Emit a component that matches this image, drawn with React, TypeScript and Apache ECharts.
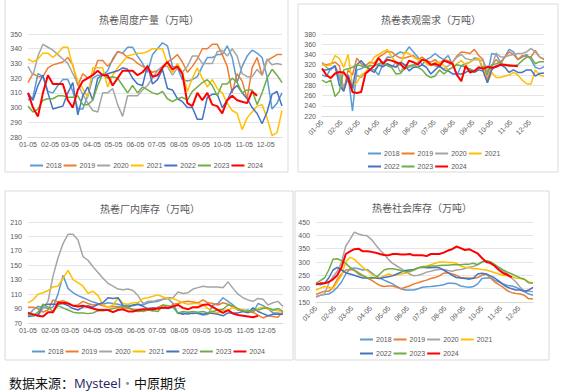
import React, { useEffect, useRef } from "react";
import * as echarts from "echarts";

// ---------- axis categories (daily, 01-05 .. 12-28) ----------
const MONTH_DAYS = [31, 28, 31, 30, 31, 30, 31, 31, 30, 31, 30, 31];
const pad = (n: number) => (n < 10 ? "0" + n : "" + n);
const DAYS: string[] = [];
{
  let doy = 0;
  for (let m = 0; m < 12; m++) {
    for (let d = 1; d <= MONTH_DAYS[m]; d++) {
      doy++;
      if (doy >= 5 && doy <= 362) DAYS.push(pad(m + 1) + "-" + pad(d));
    }
  }
}
const WEEKS: string[] = DAYS.filter((_, i) => i % 7 === 0);

const YEARS = ["2018", "2019", "2020", "2021", "2022", "2023", "2024"];
const COLORS = ["#5B9BD5", "#ED7D31", "#A5A5A5", "#FFC000", "#4472C4", "#70AD47", "#FF0000"];

const TITLES = ["热卷周度产量（万吨）", "热卷表观需求（万吨）", "热卷厂内库存（万吨）", "热卷社会库存（万吨）"];

// ---------- 1. weekly output ----------
const out2018 = [305,307,323,321,311,310,315,319,319,311,299,299,308,320,322,322,325,333,338,337,341,341,335,330,324,336,340,344,342,328,327,319,318,319,321,328,334,334,336,336,342,334,317,328,335,339,337,334,321,299,303,310];
const out2019 = [317,323,321,321,327,329,330,331,334,329,315,323,320,322,332,332,328,332,338,337,334,333,330,328,326,324,325,328,331,333,336,331,324,328,333,340,340,343,343,336,328,310,323,318,306,327,334,322,332,334,336,336];
const out2020 = [328,322,335,343,341,339,336,333,330,323,316,309,303,298,297,310,310,313,302,294,308,308,308,312,315,320,325,328,328,322,327,324,328,335,335,330,330,330,338,339,335,340,335,323,321,321,326,322,333,329,330,329];
const out2021 = [333,331,333,337,337,334,337,341,341,328,318,313,307,327,327,327,314,322,327,331,335,336,337,337,338,340,340,340,330,324,330,324,311,320,327,320,314,319,313,310,303,298,296,285,293,297,301,302,293,281,283,298];
const out2022 = [310,305,315,322,310,299,300,301,310,317,295,308,314,305,320,322,323,324,325,327,326,320,316,315,329,316,319,326,313,312,306,304,300,300,292,292,307,309,309,300,305,312,315,310,306,300,296,289,297,309,311,301];
const out2023 = [301,297,299,305,306,306,308,308,307,307,308,302,302,305,315,323,320,321,320,315,310,315,310,314,312,310,309,311,306,304,306,307,305,311,314,317,319,315,308,316,316,320,317,310,312,312,302,310,320,326,322,317];
const out2024 = [310,300,294,310,322,316,316,316,305,300,312,318,320,322,325,322,322,315,320,325,325,325,322,324,328,321,322,327,331,326,328,323,303,301,310,305,310,302,301,296,305,308,305,304,303,311,308];

// ---------- 2. apparent demand ----------
const dem2018 = [300,297,313,316,293,270,300,230,310,312,318,312,310,300,322,335,334,340,345,342,355,345,335,320,330,335,342,335,330,338,320,300,318,322,325,333,332,310,300,342,340,325,335,350,345,330,335,340,330,315,312,316];
const dem2019 = [322,320,322,325,318,270,310,300,333,322,318,325,323,335,340,346,345,338,333,333,336,338,330,335,328,325,330,322,330,328,325,337,345,344,342,350,338,330,290,318,330,322,335,345,340,330,338,336,335,348,335,330];
const dem2020 = [325,315,310,318,300,275,290,270,300,295,305,310,310,318,320,320,315,325,305,320,315,318,325,330,325,320,318,315,312,318,325,335,340,332,330,330,330,328,310,315,343,335,335,338,340,342,342,345,352,345,335,332];
const dem2021 = [320,318,320,338,332,315,340,280,285,300,305,320,335,340,345,350,335,325,318,345,342,335,330,330,322,318,325,325,318,310,315,322,328,320,325,330,332,315,285,305,295,295,298,300,305,300,290,283,282,310,300,297];
const dem2022 = [310,310,312,318,280,268,300,275,320,328,318,310,305,320,316,322,318,315,325,320,308,315,315,320,315,302,310,318,310,308,302,302,302,305,310,305,310,308,285,310,318,320,315,305,310,305,305,310,310,298,303,304];
const dem2023 = [290,285,290,258,268,310,312,315,320,318,315,318,318,322,325,318,315,302,303,312,318,320,315,310,300,295,298,310,302,310,315,320,318,315,312,308,312,316,305,320,322,325,318,320,318,320,328,335,335,322,326,326];
const dem2024 = [313,300,294,303,306,305,293,267,265,267,303,310,318,333,322,330,328,325,322,312,328,325,320,330,328,320,322,318,328,325,322,300,288,318,305,308,315,312,316,314,316,320,320,318,318,317];

// ---------- 3. mill inventory ----------
const mill2018 = [80,88,93,92,90,92,110,136,118,112,108,105,102,99,97,96,98,97,96,94,95,94,96,95,98,99,100,103,104,97,83,84,82,84,83,81,82,95,97,105,100,95,88,87,88,84,97,94,90,84,84,82];
const mill2019 = [92,92,90,85,88,102,99,101,98,94,95,100,97,95,96,94,92,93,93,91,90,89,88,86,88,87,92,95,90,96,97,99,100,99,98,102,98,97,95,98,96,92,88,88,85,85,81,77,80,79,78,86];
const mill2020 = [85,82,80,90,100,135,160,180,193,193,185,162,157,148,140,132,125,121,117,116,117,115,108,97,100,100,102,103,105,105,113,111,112,117,119,121,120,120,120,119,127,118,110,105,102,100,104,103,95,98,100,93];
const mill2021 = [98,102,110,112,115,120,121,132,143,130,126,121,111,114,108,95,92,95,105,97,96,98,98,104,105,107,109,106,104,104,101,98,96,97,97,95,90,85,84,88,87,92,89,88,86,88,90,92,89,88,87,86];
const mill2022 = [79,80,81,95,96,96,96,97,94,90,88,92,94,92,96,98,105,104,105,94,92,95,96,93,90,91,90,91,90,92,84,82,84,83,84,82,84,83,82,80,84,84,84,86,84,91,86,83,80,82,82,82];
const mill2023 = [82,80,85,96,92,86,94,91,88,85,84,84,83,84,87,87,88,90,91,93,92,88,86,87,88,87,86,95,94,92,84,86,85,86,85,86,84,86,88,89,95,94,90,87,86,87,88,90,91,88,90,86];
const mill2024 = [84,82,80,79,85,85,98,98,97,94,93,94,92,90,88,88,88,85,88,89,86,86,88,89,89,89,90,91,91,93,95,91,89,92,92,95,96,92,88,84,88,83,81,80,79,78,80];

// ---------- 4. social inventory ----------
const soc2018 = [170,175,178,180,190,205,225,255,275,278,275,270,272,260,248,240,232,225,218,208,200,195,195,195,200,205,207,208,210,212,215,220,220,218,210,207,205,208,218,238,240,240,232,225,218,212,210,205,198,188,180,175];
const soc2019 = [178,185,190,190,205,235,255,270,272,270,260,250,240,232,222,212,208,210,210,205,200,205,210,218,222,228,232,238,242,248,258,260,255,250,242,240,240,238,242,250,255,240,225,215,205,192,185,182,180,175,162,162];
const soc2020 = [168,175,180,220,245,265,300,360,385,412,405,400,398,385,365,345,330,310,295,285,275,265,255,248,250,255,262,265,270,272,272,268,265,270,272,276,280,283,290,300,305,300,290,278,265,255,240,225,205,190,190,188];
const soc2021 = [195,202,208,205,200,225,250,300,318,310,295,280,268,255,245,240,248,255,250,252,255,258,262,270,278,283,285,290,295,300,300,298,298,295,285,280,278,275,275,272,270,265,260,255,250,248,245,240,238,235,225,222];
const soc2022 = [220,215,220,240,270,280,270,260,255,250,245,240,240,242,240,238,242,245,248,255,262,268,270,272,278,280,278,278,280,278,270,260,250,242,240,238,235,240,255,258,255,248,240,228,215,205,200,195,195,190,195,205];
const soc2023 = [220,230,240,270,310,312,305,295,280,268,255,248,242,238,240,255,270,275,275,272,268,262,265,270,278,280,282,285,285,287,288,288,290,290,290,292,292,295,290,300,305,300,290,280,270,262,255,248,240,235,222,220];
const soc2024 = [215,220,220,225,235,250,280,330,340,348,350,340,340,338,335,330,326,325,330,330,328,328,330,325,325,325,322,330,330,330,335,343,348,358,352,345,348,340,332,315,300,296,285,270,258,252,242];

const PANELS = [
  [out2018, out2019, out2020, out2021, out2022, out2023, out2024],
  [dem2018, dem2019, dem2020, dem2021, dem2022, dem2023, dem2024],
  [mill2018, mill2019, mill2020, mill2021, mill2022, mill2023, mill2024],
  [soc2018, soc2019, soc2020, soc2021, soc2022, soc2023, soc2024],
];

const Y_RANGES = [
  { min: 280, max: 350, interval: 10 },
  { min: 220, max: 380, interval: 20 },
  { min: 70, max: 210, interval: 20 },
  { min: 150, max: 450, interval: 50 },
];

const GRIDS = [
  { left: 28, top: 34, width: 254, height: 103 },
  { left: 322, top: 34, width: 222, height: 82 },
  { left: 28, top: 222, width: 255, height: 101 },
  { left: 316, top: 222, width: 217, height: 80 },
];

const TITLE_POS = [
  [144, 9],
  [426, 9],
  [145, 198],
  [417, 197],
];

const GREY = "#595959";
const LABEL_FONT = "'Liberation Sans', Arial, sans-serif";
const CJK = "'Noto Sans CJK SC', sans-serif";

export default function App() {
  const ref = useRef<HTMLDivElement>(null);
  useEffect(() => {
    if (!ref.current) return;
    const chart = echarts.init(ref.current, undefined, { renderer: "svg" });

    const series: any[] = [];
    PANELS.forEach((panel, p) => {
      panel.forEach((vals, k) => {
        series.push({
          type: "line",
          name: YEARS[k],
          xAxisIndex: p,
          yAxisIndex: p,
          data: vals.map((v, i) => [WEEKS[i], v]),
          symbol: "none",
          lineStyle: { width: k === 6 ? 2 : 1.5, color: COLORS[k] },
          itemStyle: { color: COLORS[k] },
          z: 2 + k,
        });
      });
    });

    const legendBase = {
      icon: "rect",
      itemWidth: 13,
      itemHeight: 2,
      itemGap: 2,
      orient: "horizontal",
      textStyle: { fontSize: 7, color: GREY, fontFamily: LABEL_FONT, padding: [0, 0, 0, -2] },
      selectedMode: false,
    };

    const legends = [
      { ...legendBase, left: 25, top: 157, data: YEARS },
      { ...legendBase, left: 363, top: 145, data: YEARS.slice(0, 4) },
      { ...legendBase, left: 363, top: 158, data: YEARS.slice(4) },
      { ...legendBase, left: 27, top: 343, data: YEARS },
      { ...legendBase, left: 355, top: 331, data: YEARS.slice(0, 4) },
      { ...legendBase, left: 355, top: 345, data: YEARS.slice(4) },
    ];

    const rotated = [false, true, false, true];

    const option: any = {
      animation: false,
      backgroundColor: "#ffffff",
      title: [
        ...TITLES.map((t, i) => ({
          text: t,
          left: TITLE_POS[i][0],
          top: TITLE_POS[i][1],
          textAlign: "center",
          textStyle: { fontSize: 10, fontWeight: "normal", color: GREY, fontFamily: CJK },
        })),
        {
          text: "{a|数据来源：}{b|Mysteel}{c|·}{a|中原期货}",
          left: 4,
          top: 371,
          textStyle: {
            fontSize: 13,
            fontWeight: "normal",
            rich: {
              a: { fontSize: 13, fontWeight: "normal", color: "#111111", fontFamily: CJK },
              b: { fontSize: 13, fontWeight: "normal", color: "#23235e", fontFamily: "'Open Sans', sans-serif" },
              c: { fontSize: 13, fontWeight: "normal", color: "#888888", fontFamily: CJK },
            },
          },
        },
      ],
      legend: legends,
      grid: GRIDS.map((g) => ({ ...g, containLabel: false })),
      xAxis: GRIDS.map((_, i) => ({
        type: "category",
        gridIndex: i,
        data: DAYS,
        boundaryGap: false,
        axisLine: { show: true, lineStyle: { color: "#D9D9D9", width: 1 } },
        axisTick: { show: false },
        axisLabel: {
          interval: (_idx: number, v: string) => v.endsWith("-05"),
          fontSize: 7,
          color: GREY,
          fontFamily: LABEL_FONT,
          margin: rotated[i] ? 5 : 4,
          rotate: rotated[i] ? 45 : 0,
          hideOverlap: false,
        },
        splitLine: { show: false },
      })),
      yAxis: GRIDS.map((_, i) => ({
        type: "value",
        gridIndex: i,
        min: Y_RANGES[i].min,
        max: Y_RANGES[i].max,
        interval: Y_RANGES[i].interval,
        axisLine: { show: false },
        axisTick: { show: false },
        axisLabel: { fontSize: 7, color: GREY, fontFamily: LABEL_FONT, margin: 6 },
        splitLine: { show: true, lineStyle: { color: "#E6E6E6", width: 1 } },
      })),
      series,
      graphic: [
        { type: "rect", shape: { x: 5, y: -2, width: 283, height: 174 }, style: { fill: "none", stroke: "#D9D9D9", lineWidth: 1 }, silent: true },
        { type: "rect", shape: { x: 298, y: 4, width: 260, height: 168 }, style: { fill: "none", stroke: "#D9D9D9", lineWidth: 1 }, silent: true },
        { type: "rect", shape: { x: 5, y: 191, width: 288, height: 169 }, style: { fill: "none", stroke: "#D9D9D9", lineWidth: 1 }, silent: true },
        { type: "rect", shape: { x: 295, y: 191, width: 254, height: 169 }, style: { fill: "none", stroke: "#D9D9D9", lineWidth: 1 }, silent: true },
      ],
    };

    chart.setOption(option);
    return () => chart.dispose();
  }, []);

  return (
    <div
      ref={ref}
      style={{ position: "fixed", left: 0, top: 0, width: 567, height: 392, background: "#fff" }}
    />
  );
}
